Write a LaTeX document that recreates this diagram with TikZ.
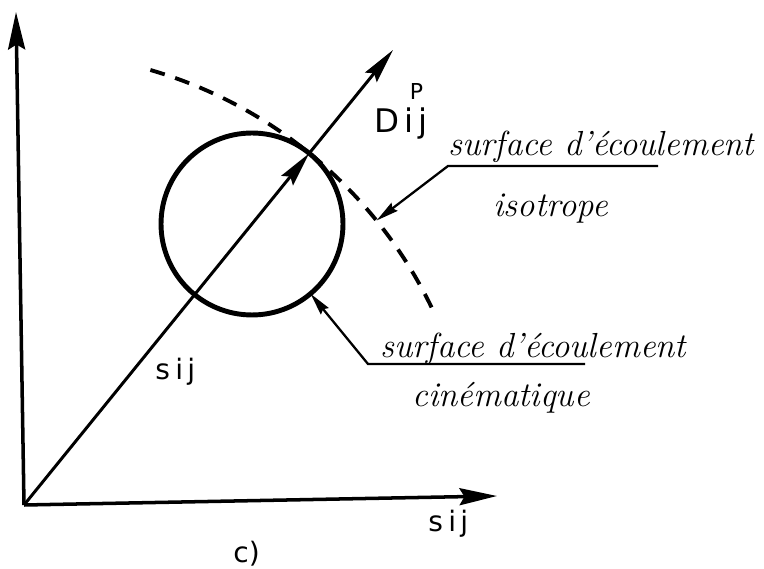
\documentclass[tikz,border=0pt]{standalone}
\usepackage{fontspec}
\newfontfamily\lettrage{DejaVu Sans}
\usetikzlibrary{arrows.meta, calc}

\begin{document}
\begin{tikzpicture}[x=0.02cm, y=0.02cm,
  axe/.style={line width=2pt, -{Stealth[length=0.75cm, width=0.34cm, inset=0.1cm]}},
  vecteur/.style={line width=1.7pt, -{Stealth[length=0.7cm, width=0.3cm, inset=0.1cm]}},
  cinem/.style={circle, draw, line width=2.8pt, minimum size=3.64cm,
    inner sep=0pt, outer sep=0pt},
  isotr/.style={line width=2.2pt, dash pattern=on 0.3cm off 0.22cm},
  renvoi/.style={line width=1.3pt, -{Stealth[length=0.45cm, width=0.2cm, inset=0.05cm]}},
  note/.style={font=\fontsize{19.8}{23}\selectfont\itshape, inner sep=0pt, anchor=base west},
  etiq/.style={font=\lettrage\fontsize{16}{18}\selectfont, inner sep=0pt, anchor=base west}
]
  \useasboundingbox (0,0) rectangle (764,568);

  % --- Axes ---
  \coordinate (O)      at (24,63);
  \coordinate (haut)   at (16,556);
  \coordinate (droite) at (497,72);
  \draw[axe] (O) -- (haut);
  \draw[axe] (O) -- (droite);

  % --- Surface cinematique et vecteurs ---
  \node[cinem] (cin) at (252,344) {};
  \coordinate (P) at (cin.51);
  \coordinate (T) at (393,518);
  \draw[vecteur] (O) -- (P);
  \draw[vecteur] (P) -- (T);

  % --- Surface isotrope (arc centre en O) ---
  \draw[isotr] ($(O)+(73.8:453)$) arc[start angle=73.8, end angle=25.5, radius=9.06cm];
  \coordinate (isoP) at ($(O)+(38.9:453)$);

  % --- Textes ---
  \node[note] (isoT1) at (448,412) {surface d'écoulement};
  \node[note] (isoT2) at (493,351) {isotrope};
  \node[note] (cinT1) at (380,210) {surface d'écoulement};
  \node[note] (cinT2) at (412,161) {cinématique};
  \node[etiq] (sdiag) at (155,188) {s\kern3pt i\kern2.5pt j};
  \node[etiq] (saxe)  at (428,36)  {s\kern3pt i\kern2.5pt j};
  \node[etiq, font=\lettrage\fontsize{18.5}{20}\selectfont] (dp) at (374,435)
    {D\kern3pt\rlap{\kern3pt\raisebox{19pt}{\fontsize{12.5}{13}\selectfont P}}i\kern2.5pt j};
  \node[etiq] (fig)   at (233,6)   {c)};

  % --- Renvois ---
  \coordinate (isoA) at (658,402);
  \coordinate (isoB) at (448,402);
  \draw[renvoi] (isoA) -- (isoB) -- (isoP);
  \coordinate (cinA) at (585,204);
  \coordinate (cinB) at (368,204);
  \draw[renvoi] (cinA) -- (cinB) -- (cin.-50);
\end{tikzpicture}
\end{document}
